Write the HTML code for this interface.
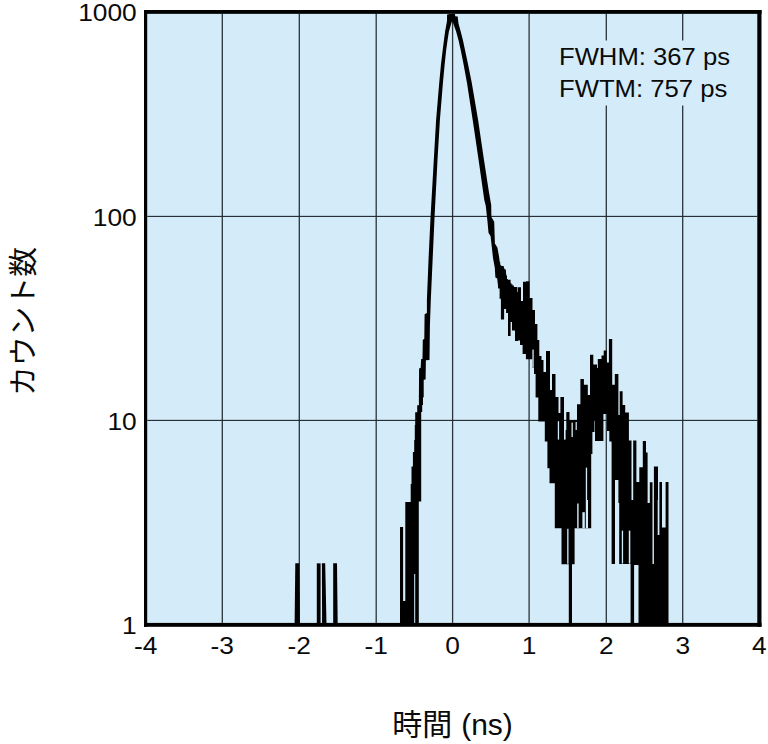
<!DOCTYPE html>
<html lang="ja"><head><meta charset="utf-8"><title>chart</title>
<style>html,body{margin:0;padding:0;background:#fff;}body{width:768px;height:744px;overflow:hidden;font-family:"Liberation Sans",sans-serif;}svg{display:block;}</style>
</head><body>
<svg width="768" height="744" viewBox="0 0 768 744">
<rect x="0" y="0" width="768" height="744" fill="#ffffff"/>
<rect x="145.0" y="11.0" width="615.5" height="614.8" fill="#d4ecf9"/>
<rect x="221.65" y="13.85" width="1.3" height="609.05" fill="#2b343b"/>
<rect x="298.65" y="13.85" width="1.3" height="609.05" fill="#2b343b"/>
<rect x="375.55" y="13.85" width="1.3" height="609.05" fill="#2b343b"/>
<rect x="451.95" y="13.85" width="1.3" height="609.05" fill="#2b343b"/>
<rect x="528.45" y="13.85" width="1.3" height="609.05" fill="#2b343b"/>
<rect x="605.65" y="13.85" width="1.3" height="609.05" fill="#2b343b"/>
<rect x="682.05" y="13.85" width="1.3" height="609.05" fill="#2b343b"/>
<rect x="147.2" y="215.85" width="610.10" height="1.1" fill="#20272c"/>
<rect x="147.2" y="419.85" width="610.10" height="1.1" fill="#20272c"/>
<rect x="553" y="40.5" width="182" height="65" fill="#d4ecf9"/>
<path d="M450.80,14.00L447.20,14.80L447.00,21.00L445.10,31.50L443.90,40.50L442.70,50.00L441.00,64.10L439.30,82.00L436.10,120.00L433.80,160.00L430.60,216.00L428.60,258.00L426.90,300.00L426.90,313.00L424.60,314.30L424.30,339.10L422.80,339.80L422.50,358.70L421.10,359.30L420.70,367.80L419.10,368.40L418.90,397.00L423.70,397.00L423.70,379.80L425.60,379.50L425.90,360.20L429.50,360.00L429.90,326.00L430.80,300.00L432.70,258.00L434.60,216.00L437.50,160.00L439.90,120.00L443.00,82.00L444.70,64.10L446.20,50.00L447.50,40.50L448.90,31.50L451.80,21.80Z" fill="#000000"/>
<path d="M451.80,21.80L453.00,22.80L456.10,31.50L458.60,40.50L460.70,50.00L463.50,64.00L467.00,83.00L472.70,120.00L478.60,160.00L484.30,200.00L485.80,206.00L487.50,221.80L488.50,232.70L490.60,236.30L493.00,258.00L494.80,267.70L495.40,277.40L497.20,278.60L498.30,288.50L508.00,279.80L506.90,278.80L505.90,272.30L503.70,267.00L500.20,265.00L499.00,256.30L497.40,247.50L494.90,243.50L494.20,221.80L491.40,217.00L491.20,205.00L488.60,190.00L484.00,160.00L478.10,120.00L471.80,83.00L468.00,64.00L465.00,50.00L463.00,40.50L460.70,31.50L458.50,23.40L457.70,16.60L455.20,16.30L455.00,14.00L450.80,14.00L447.20,14.80L447.00,21.00Z" fill="#000000"/>
<path d="M400.00,527.00L403.10,527.00L403.10,601.00L405.30,601.00L405.30,502.00L410.70,502.00L410.70,484.00L411.50,484.00L411.50,466.50L412.90,466.50L412.90,452.00L414.20,452.00L414.20,440.00L414.80,440.00L414.80,425.00L415.20,425.00L415.20,412.30L417.20,412.30L417.20,405.20L418.90,405.20L418.90,396.00L423.20,396.00L423.20,398.00L423.00,398.00L423.00,405.00L422.20,405.00L422.20,412.00L421.20,412.00L421.20,501.50L418.80,501.50L418.80,624.85L400.00,624.85Z" fill="#000000"/>
<path d="M498.30,262.00L500.20,262.00L500.20,266.00L503.70,266.00L503.70,269.50L505.90,269.50L505.90,275.50L506.90,275.50L506.90,279.20L508.00,279.20L508.00,279.80L510.60,279.80L510.60,283.00L511.30,283.00L511.30,284.30L512.50,284.30L512.50,285.60L513.90,285.60L513.90,287.00L517.20,287.00L517.20,292.00L517.80,292.00L517.80,287.20L521.00,287.20L521.00,301.00L523.00,301.00L523.00,281.80L526.00,281.80L526.00,281.30L529.50,281.30L529.50,298.00L532.50,298.00L532.50,310.00L535.00,310.00L535.00,324.00L537.40,324.00L537.40,340.00L539.30,340.00L539.30,356.00L541.50,356.00L541.50,360.00L543.50,360.00L543.50,372.00L546.00,372.00L546.00,350.90L550.00,350.90L550.00,390.00L552.00,390.00L552.00,374.00L555.50,374.00L555.50,397.00L558.50,397.00L558.50,413.00L560.40,413.00L560.40,397.00L564.00,397.00L564.00,430.00L566.30,430.00L566.30,412.00L569.50,412.00L569.50,420.00L577.00,420.00L577.00,404.30L580.40,404.30L580.40,378.90L583.90,378.90L583.90,384.80L587.80,384.80L587.80,395.00L590.00,395.00L590.00,354.80L593.30,354.80L593.30,364.50L597.00,364.50L597.00,368.00L597.80,368.00L597.80,359.00L601.50,359.00L601.50,355.40L603.70,355.40L603.70,350.60L606.70,350.60L606.70,362.60L608.90,362.60L608.90,339.10L612.20,339.10L612.20,384.80L614.80,384.80L614.80,374.00L618.40,374.00L618.40,415.00L619.70,415.00L619.70,391.30L622.60,391.30L622.60,405.00L625.20,405.00L625.20,412.40L628.90,412.40L628.90,440.40L631.50,440.40L631.50,500.00L633.20,500.00L633.20,440.60L636.40,440.60L636.40,482.00L639.30,482.00L639.30,467.30L642.80,467.30L642.80,441.00L646.00,441.00L646.00,452.40L647.60,452.40L647.60,503.00L649.80,503.00L649.80,482.20L652.50,482.20L652.50,564.00L653.90,564.00L653.90,466.40L658.00,466.40L658.00,535.00L659.40,535.00L659.40,482.00L662.00,482.00L662.00,527.60L665.60,527.60L665.60,482.00L668.50,482.00L668.50,624.85L638.50,624.85L638.50,565.00L634.10,565.00L634.10,624.85L630.60,624.85L630.60,564.00L619.20,564.00L619.20,503.00L618.40,503.00L618.40,480.00L615.00,480.00L615.00,564.00L611.60,564.00L611.60,441.50L609.30,441.50L609.30,431.00L607.00,431.00L607.00,414.00L603.40,414.00L603.40,440.90L595.00,440.90L595.00,420.00L594.50,420.00L594.50,432.00L592.40,432.00L592.40,454.00L591.20,454.00L591.20,528.30L574.60,528.30L574.60,564.30L572.00,564.30L572.00,624.85L568.80,624.85L568.80,564.30L561.50,564.30L561.50,528.30L554.80,528.30L554.80,483.20L549.50,483.20L549.50,468.30L547.40,468.30L547.40,441.50L544.80,441.50L544.80,421.50L538.30,421.50L538.30,397.50L535.60,397.50L535.60,374.00L534.00,374.00L534.00,368.00L532.40,368.00L532.40,359.30L525.90,359.30L525.90,354.00L522.60,354.00L522.60,345.00L520.00,345.00L520.00,340.40L518.00,340.40L518.00,341.00L515.00,341.00L515.00,330.40L512.00,330.40L512.00,322.00L510.60,322.00L510.60,336.00L508.00,336.00L508.00,313.00L506.10,313.00L506.10,309.00L504.10,309.00L504.10,319.50L500.90,319.50L500.90,298.70L499.60,298.70L499.60,288.50L498.30,288.50Z" fill="#000000"/>
<rect x="557.8" y="421.2" width="1.3" height="18.4" fill="#d4ecf9"/>
<rect x="564.0" y="421.2" width="1.6" height="18.4" fill="#d4ecf9"/>
<rect x="571.5" y="422.6" width="1.3" height="14.4" fill="#d4ecf9"/>
<rect x="575.6" y="422" width="1.2" height="8" fill="#d4ecf9"/>
<rect x="585.8" y="467.6" width="1.3" height="60.5" fill="#d4ecf9"/>
<rect x="577.2" y="503.5" width="1.4" height="24.6" fill="#d4ecf9"/>
<rect x="582.4" y="512.2" width="2.4" height="16" fill="#d4ecf9"/>
<rect x="586.8" y="500" width="1.2" height="28" fill="#d4ecf9"/>
<rect x="567.2" y="528.8" width="1.3" height="35" fill="#d4ecf9"/>
<rect x="621.8" y="530.6" width="1.3" height="33" fill="#d4ecf9"/>
<rect x="628.8" y="530.6" width="1.5" height="33" fill="#d4ecf9"/>
<rect x="657.7" y="500" width="1.3" height="35" fill="#d4ecf9"/>
<rect x="532.4" y="349.6" width="1.3" height="18.2" fill="#d4ecf9"/>
<rect x="414.2" y="574" width="1.0" height="49" fill="#d4ecf9"/>
<path d="M294.6,624.85 L295.3,563.35 L299.3,563.35 L299.9,624.85Z" fill="#000000"/>
<path d="M316.8,624.85 L316.8,563.35 L320.6,563.35 L320.6,624.85Z" fill="#000000"/>
<path d="M322.1,624.85 L321.9,563.35 L325.2,563.35 L326.5,624.85Z" fill="#000000"/>
<path d="M333.2,624.85 L333.2,563.35 L337.0,563.35 L337.7,624.85Z" fill="#000000"/>
<rect x="144.0" y="10.0" width="3.20" height="616.80" fill="#000"/>
<rect x="757.3" y="10.0" width="4.20" height="616.80" fill="#000"/>
<rect x="144.0" y="10.0" width="617.50" height="3.85" fill="#000"/>
<rect x="144.0" y="622.9" width="617.50" height="3.90" fill="#000"/>
<text transform="translate(136.7,20.90) scale(1.075,1)" font-family="Liberation Sans, sans-serif" font-size="24.5" text-anchor="end" fill="#0a0a0a">1000</text>
<text transform="translate(136.7,225.60) scale(1.075,1)" font-family="Liberation Sans, sans-serif" font-size="24.5" text-anchor="end" fill="#0a0a0a">100</text>
<text transform="translate(136.7,429.90) scale(1.075,1)" font-family="Liberation Sans, sans-serif" font-size="24.5" text-anchor="end" fill="#0a0a0a">10</text>
<text transform="translate(136.7,634.30) scale(1.075,1)" font-family="Liberation Sans, sans-serif" font-size="24.5" text-anchor="end" fill="#0a0a0a">1</text>
<text transform="translate(145.60,654.3) scale(1.075,1)" font-family="Liberation Sans, sans-serif" font-size="24.5" text-anchor="middle" fill="#0a0a0a">-4</text>
<text transform="translate(222.30,654.3) scale(1.075,1)" font-family="Liberation Sans, sans-serif" font-size="24.5" text-anchor="middle" fill="#0a0a0a">-3</text>
<text transform="translate(299.30,654.3) scale(1.075,1)" font-family="Liberation Sans, sans-serif" font-size="24.5" text-anchor="middle" fill="#0a0a0a">-2</text>
<text transform="translate(376.20,654.3) scale(1.075,1)" font-family="Liberation Sans, sans-serif" font-size="24.5" text-anchor="middle" fill="#0a0a0a">-1</text>
<text transform="translate(452.60,654.3) scale(1.075,1)" font-family="Liberation Sans, sans-serif" font-size="24.5" text-anchor="middle" fill="#0a0a0a">0</text>
<text transform="translate(529.10,654.3) scale(1.075,1)" font-family="Liberation Sans, sans-serif" font-size="24.5" text-anchor="middle" fill="#0a0a0a">1</text>
<text transform="translate(606.30,654.3) scale(1.075,1)" font-family="Liberation Sans, sans-serif" font-size="24.5" text-anchor="middle" fill="#0a0a0a">2</text>
<text transform="translate(682.70,654.3) scale(1.075,1)" font-family="Liberation Sans, sans-serif" font-size="24.5" text-anchor="middle" fill="#0a0a0a">3</text>
<text transform="translate(759.40,654.3) scale(1.075,1)" font-family="Liberation Sans, sans-serif" font-size="24.5" text-anchor="middle" fill="#0a0a0a">4</text>
<text x="559.0" y="65.25" font-family="Liberation Sans, sans-serif" font-size="24" textLength="171" lengthAdjust="spacingAndGlyphs" fill="#0a0a0a">FWHM: 367 ps</text>
<text x="559.0" y="97.25" font-family="Liberation Sans, sans-serif" font-size="24" textLength="168.3" lengthAdjust="spacingAndGlyphs" fill="#0a0a0a">FWTM: 757 ps</text>
<text x="461.2" y="735.4" font-family="Liberation Sans, sans-serif" font-size="30" fill="#0a0a0a">(ns)</text>
<text x="392.3" y="735" font-family="'Liberation Sans', 'Noto Sans CJK JP', sans-serif" font-size="30" textLength="60" lengthAdjust="spacingAndGlyphs" fill="#0a0a0a">時間</text>
<text transform="translate(34,396) rotate(-90)" font-family="'Liberation Sans', 'Noto Sans CJK JP', sans-serif" font-size="29" textLength="149" lengthAdjust="spacingAndGlyphs" fill="#0a0a0a">カウント数</text>
</svg>
</body></html>
